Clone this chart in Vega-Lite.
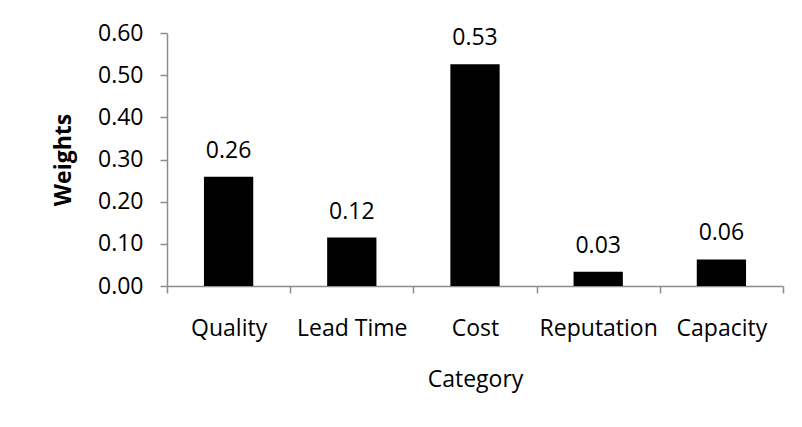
{
  "$schema": "https://vega.github.io/schema/vega-lite/v6.json",
  "width": 616,
  "height": 253,
  "autosize": {"type": "none"},
  "padding": {"left": 167, "top": 33, "right": 19, "bottom": 141},
  "background": "white",
  "config": {
    "view": {"stroke": null},
    "font": "Open Sans"
  },
  "data": {
    "values": [
      {"Category": "Quality", "Weights": 0.259},
      {"Category": "Lead Time", "Weights": 0.115},
      {"Category": "Cost", "Weights": 0.526},
      {"Category": "Reputation", "Weights": 0.034},
      {"Category": "Capacity", "Weights": 0.063}
    ]
  },
  "encoding": {
    "x": {
      "field": "Category",
      "type": "nominal",
      "sort": null,
      "scale": {"paddingInner": 0, "paddingOuter": 0},
      "axis": {
        "title": "Category",
        "labelAngle": 0,
        "tickBand": "extent",
        "tickSize": 7,
        "tickColor": "#8c8c8c",
        "tickWidth": 1.5,
        "domainColor": "#8c8c8c",
        "domainWidth": 1.5,
        "labelPadding": 24,
        "labelFont": "Open Sans",
        "labelFontSize": 23,
        "labelColor": "black",
        "titleFont": "Open Sans",
        "titleFontSize": 23,
        "titleFontWeight": "normal",
        "titleColor": "black",
        "titlePadding": 28
      }
    },
    "y": {
      "field": "Weights",
      "type": "quantitative",
      "scale": {"domain": [0, 0.6], "nice": false},
      "axis": {
        "title": "Weights",
        "values": [0, 0.1, 0.2, 0.3, 0.4, 0.5, 0.6],
        "format": ".2f",
        "grid": false,
        "tickSize": 7,
        "tickColor": "#8c8c8c",
        "tickWidth": 1.5,
        "domainColor": "#8c8c8c",
        "domainWidth": 1.5,
        "labelPadding": 17,
        "labelFont": "Open Sans",
        "labelFontSize": 23,
        "labelColor": "black",
        "titleFont": "Open Sans",
        "titleFontSize": 23,
        "titleFontWeight": "bold",
        "titleColor": "black",
        "titlePadding": 22
      }
    }
  },
  "layer": [
    {
      "mark": {"type": "bar", "color": "black", "width": {"band": 0.4}}
    },
    {
      "mark": {"type": "text", "font": "Open Sans", "fontSize": 23, "color": "black", "baseline": "alphabetic", "align": "center", "dy": -19},
      "encoding": {
        "text": {"field": "Weights", "type": "quantitative", "format": ".2f"}
      }
    }
  ]
}
